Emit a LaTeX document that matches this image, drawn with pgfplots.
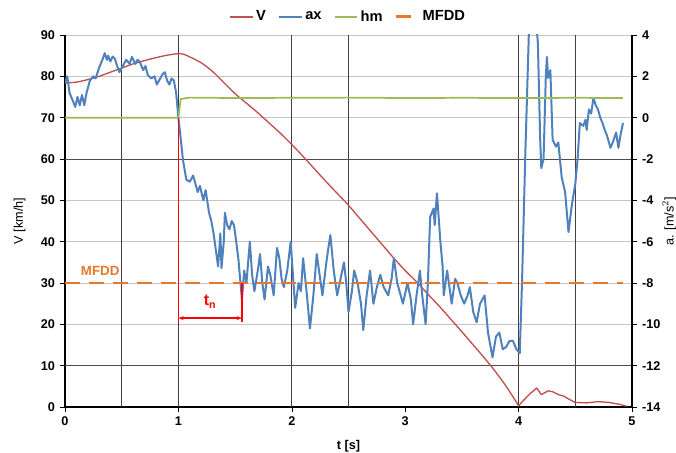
\documentclass[border=0pt]{standalone}
\usepackage{fontspec}
\setmainfont{Liberation Sans}
\usepackage{pgfplots}
\pgfplotsset{compat=1.18}
\usetikzlibrary{arrows.meta}

\definecolor{cV}{HTML}{C0504D}
\definecolor{cAx}{HTML}{4F81BD}
\definecolor{cHm}{HTML}{9BBB59}
\definecolor{cMf}{HTML}{E8772E}

\pgfplotsset{
  base/.style={
    scale only axis, width=425.25pt, height=279pt,
    xmin=0, xmax=5,
    tick align=outside, major tick length=4pt,
    tick style={black, thin},
    ticklabel style={font=\bfseries\fontsize{9.5}{11}\selectfont},
    label style={font=\fontsize{9.5}{11}\selectfont},
    /pgf/number format/assume math mode=true,
    axis line style={black, line width=0.8pt},
  }
}

\begin{document}
\begin{tikzpicture}
% left axis: speed
\begin{axis}[base, name=main,
  axis x line*=bottom, axis y line*=left,
  ymin=0, ymax=90, ytick={0,10,...,90}, xtick={0,1,...,5},
  ymajorgrids, major grid style={gray!45, line width=0.6pt},
  extra x ticks={0.5,1,2,2.5,4,4.5}, extra x tick labels={},
  extra x tick style={grid=major, major grid style={black!75, line width=0.6pt}, major tick length=0pt},
  extra y ticks={10,60}, extra y tick labels={},
  extra y tick style={grid=major, major grid style={black!70, line width=0.6pt}},
  xlabel={\textbf{t [s]}}, ylabel={V [km/h]},
  ylabel style={at={(rel axis cs:0,0.5)}, anchor=center, yshift=34pt},
]
\addplot[cV, line width=1pt, smooth] coordinates {
  (0,78.4) (0.1,78.6) (0.2,79.2) (0.3,80.0) (0.4,81.0) (0.5,82.0) (0.6,83.0)
  (0.7,83.8) (0.8,84.5) (0.9,85.1) (1.0,85.5) (1.05,85.3) (1.1,84.7) (1.2,83.3)
  (1.3,81.2) (1.4,78.5) (1.5,75.8) (1.6,73.5) (1.7,71.2) (1.8,68.7) (1.9,66.2)
  (2.0,63.5) (2.1,60.6) (2.2,57.6) (2.3,54.6) (2.4,51.7) (2.5,48.8) (2.6,45.6)
  (2.7,42.4) (2.8,39.2) (2.9,36.0) (3.0,33.0) (3.1,30.3) (3.2,27.3) (3.3,24.4)
  (3.4,21.3) (3.5,18.2) (3.6,15.0) (3.7,11.8) (3.8,8.4) (3.9,4.6) (4.0,0.3)
};
\addplot[cV, line width=1pt, line join=round] coordinates {
  (4.0,0.3) (4.05,1.8) (4.1,3.2) (4.16,4.6) (4.2,3.0) (4.26,3.9) (4.3,3.7)
  (4.35,3.0) (4.4,2.6) (4.45,1.8) (4.5,1.1) (4.6,1.0) (4.7,1.3) (4.8,1.1)
  (4.9,0.6) (4.95,0.2)
};
\node[text=cMf, font=\bfseries\fontsize{10}{12}\selectfont] at (axis cs:0.31,33) {MFDD};
\end{axis}

% right axis: deceleration
\begin{axis}[base,
  axis x line=none, axis y line*=right,
  ymin=-14, ymax=4, ytick={-14,-12,...,4},
  ylabel={a. [m/s$^2$]},
  ylabel style={at={(rel axis cs:1,0.5)}, anchor=center, yshift=-28pt},
  legend style={at={(0.5,1.049)}, anchor=center, draw=none, fill=none,
    legend columns=-1, font=\bfseries\fontsize{11}{13}\selectfont,
    /tikz/every even column/.append style={column sep=7pt}},
  legend image code/.code={\draw[#1] (0pt,0pt) -- (17pt,0pt);},
]
\addlegendimage{cV, line width=1.2pt}
\addlegendentry{V}
\addplot[cAx, line width=1.5pt, line join=round] coordinates {
  (0.00,1.68) (0.02,2.0) (0.04,1.2) (0.07,0.8) (0.09,0.52) (0.11,1.0) (0.13,0.6)
  (0.15,1.1) (0.17,0.6) (0.19,1.2) (0.22,1.8) (0.25,2.0) (0.27,1.9) (0.30,2.4)
  (0.33,2.8) (0.35,3.12) (0.37,2.8) (0.38,3.0) (0.40,2.72) (0.42,2.96) (0.44,2.84)
  (0.46,2.5) (0.48,2.2) (0.51,2.5) (0.54,2.8) (0.57,2.6) (0.59,2.94) (0.62,2.6)
  (0.64,2.8) (0.66,2.7) (0.69,2.3) (0.71,2.5) (0.73,2.06) (0.76,1.9) (0.79,2.0)
  (0.81,1.6) (0.84,1.9) (0.86,2.1) (0.88,2.2) (0.90,1.8) (0.92,1.6) (0.94,1.9)
  (0.96,1.8) (0.98,1.2) (1.00,0.0) (1.02,-1.0) (1.04,-2.04) (1.07,-3.0) (1.10,-3.1)
  (1.13,-2.8) (1.15,-3.2) (1.17,-3.6) (1.19,-3.3) (1.22,-4.0) (1.24,-3.5) (1.27,-4.6)
  (1.29,-5.0) (1.31,-5.6) (1.33,-6.4) (1.35,-7.2) (1.37,-5.6) (1.38,-7.28) (1.40,-6.0)
  (1.41,-4.6) (1.43,-5.2) (1.45,-5.4) (1.47,-5.0) (1.49,-5.2) (1.51,-6.0) (1.53,-6.9)
  (1.56,-8.8) (1.58,-7.4) (1.60,-8.0) (1.63,-6.0) (1.65,-7.6) (1.67,-8.4) (1.70,-7.4)
  (1.72,-6.6) (1.74,-8.0) (1.76,-8.8) (1.79,-7.2) (1.81,-7.6) (1.84,-8.6) (1.87,-6.3)
  (1.89,-6.8) (1.91,-7.8) (1.93,-8.2) (1.96,-7.4) (1.99,-6.0) (2.01,-7.6) (2.03,-9.2)
  (2.06,-8.0) (2.08,-8.4) (2.10,-6.8) (2.13,-8.4) (2.16,-10.2) (2.19,-8.6) (2.22,-6.6)
  (2.24,-7.4) (2.27,-8.6) (2.30,-7.2) (2.32,-6.4) (2.34,-5.68) (2.37,-7.4) (2.40,-8.6)
  (2.43,-7.8) (2.46,-7.0) (2.48,-8.0) (2.50,-9.4) (2.53,-8.4) (2.55,-7.4) (2.58,-8.0)
  (2.61,-9.0) (2.63,-10.28) (2.66,-8.6) (2.69,-7.4) (2.72,-9.0) (2.75,-8.2) (2.78,-7.6)
  (2.81,-8.2) (2.85,-8.6) (2.88,-7.8) (2.90,-6.8) (2.93,-8.0) (2.96,-8.6) (2.98,-9.0)
  (3.02,-8.0) (3.05,-8.8) (3.07,-10.0) (3.10,-8.6) (3.13,-7.4) (3.15,-8.6) (3.18,-10.0)
  (3.20,-8.0) (3.22,-4.8) (3.25,-4.4) (3.26,-5.2) (3.28,-3.66) (3.30,-5.2) (3.31,-6.0)
  (3.33,-7.2) (3.34,-8.6) (3.37,-7.4) (3.39,-8.2) (3.41,-9.0) (3.44,-7.8) (3.46,-8.0)
  (3.49,-8.6) (3.52,-9.0) (3.55,-8.6) (3.57,-8.2) (3.60,-9.4) (3.63,-9.9) (3.66,-9.0)
  (3.70,-8.6) (3.73,-10.4) (3.75,-11.0) (3.77,-11.6) (3.80,-10.6) (3.83,-10.4) (3.86,-11.2)
  (3.89,-11.1) (3.92,-10.8) (3.95,-10.8) (3.98,-11.2) (4.01,-11.4) (4.03,-8.0) (4.06,-1.6)
  (4.09,4.0) (4.12,6.0) (4.15,5.0) (4.17,3.6) (4.19,-1.0) (4.20,-2.44) (4.22,-2.0)
  (4.24,2.0) (4.25,2.94) (4.26,1.92) (4.28,2.3) (4.30,-1.08) (4.33,-1.4) (4.35,-1.2)
  (4.38,-2.88) (4.41,-3.6) (4.44,-5.54) (4.47,-4.2) (4.50,-3.2) (4.52,-2.0) (4.54,-0.26)
  (4.57,-0.4) (4.59,-0.1) (4.60,-0.6) (4.62,0.4) (4.64,0.2) (4.66,0.96) (4.68,0.6)
  (4.70,0.4) (4.72,0.0) (4.74,-0.26) (4.76,-0.6) (4.78,-0.88) (4.81,-1.46) (4.83,-1.2)
  (4.86,-0.72) (4.88,-1.46) (4.90,-0.8) (4.92,-0.26)
};
\addlegendentry{ax}
\addplot[cHm, line width=1.3pt] coordinates {
  (0,0) (1.0,0) (1.02,0.9) (1.1,0.97) (1.5,0.95) (2.0,0.96) (2.5,0.97)
  (3.0,0.95) (3.5,0.96) (4.0,0.95) (4.5,0.96) (4.92,0.95)
};
\addlegendentry{hm}
\addplot[cMf, line width=2pt, dash pattern=on 11pt off 7pt] coordinates {
  (0,-8) (4.92,-8)
};
\addlegendentry{MFDD}
% t_n annotation
\draw[red, line width=1pt] (axis cs:1,0) -- (axis cs:1,-9.9);
\draw[red, line width=1pt] (axis cs:1.56,-8) -- (axis cs:1.56,-9.9);
\draw[red, line width=1pt, {Stealth[length=4pt]}-{Stealth[length=4pt]}] (axis cs:1,-9.7) -- (axis cs:1.56,-9.7);
\node[text=red, font=\bfseries\fontsize{12}{14}\selectfont] at (axis cs:1.28,-8.9) {t\textsubscript{n}};
\end{axis}
\pgfresetboundingbox
\path ([shift={(-48.75pt,-33.75pt)}]main.south west) rectangle ([shift={(33pt,26.25pt)}]main.north east);
\end{tikzpicture}
\end{document}
